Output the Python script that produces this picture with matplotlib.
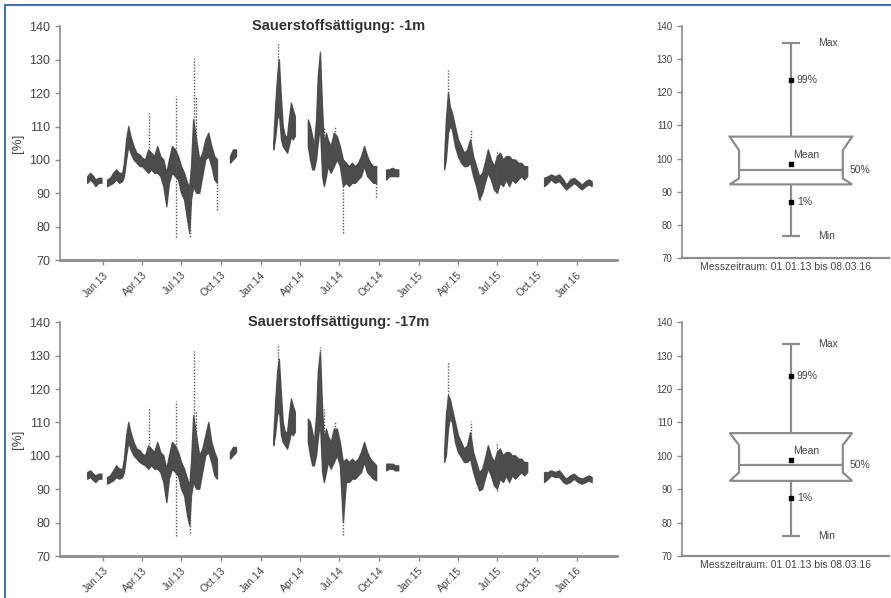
import numpy as np
import pandas as pd
import matplotlib
matplotlib.use('Agg')
import matplotlib.pyplot as plt
import matplotlib.dates as mdates
from matplotlib.patches import Polygon
from matplotlib.lines import Line2D

plt.rcParams['font.family'] = ['Liberation Sans', 'DejaVu Sans']

NA = np.nan

# -1m: lower / upper edge of the point cloud (NA = gap in the record)
dates_1m = ['2012-11-27', '2012-12-04', '2012-12-11', '2012-12-16', '2012-12-23', '2012-12-30', '2013-01-06',
            '2013-01-12', '2013-01-19', '2013-01-26', '2013-02-02', '2013-02-09', '2013-02-16', '2013-02-20',
            '2013-02-25', '2013-03-02', '2013-03-07', '2013-03-14', '2013-03-21', '2013-03-28', '2013-04-03',
            '2013-04-10', '2013-04-17', '2013-04-24', '2013-05-01', '2013-05-08', '2013-05-15', '2013-05-22',
            '2013-05-29', '2013-06-04', '2013-06-11', '2013-06-18', '2013-06-25', '2013-07-02', '2013-07-09',
            '2013-07-16', '2013-07-21', '2013-07-25', '2013-07-30', '2013-08-06', '2013-08-13', '2013-08-20',
            '2013-08-27', '2013-09-03', '2013-09-10', '2013-09-17', '2013-09-23', '2013-10-08',
            '2013-10-23', '2013-10-30', '2013-11-06', '2013-12-15',
            '2014-01-31', '2014-02-04', '2014-02-09', '2014-02-13', '2014-02-18', '2014-02-22', '2014-02-27',
            '2014-03-04', '2014-03-08', '2014-03-13', '2014-03-17', '2014-03-22', '2014-04-05',
            '2014-04-21', '2014-04-26', '2014-05-01', '2014-05-05', '2014-05-10', '2014-05-14', '2014-05-19',
            '2014-05-24', '2014-05-28', '2014-06-02', '2014-06-06', '2014-06-13', '2014-06-20', '2014-06-27',
            '2014-07-04', '2014-07-11', '2014-07-18', '2014-07-25', '2014-08-01', '2014-08-08', '2014-08-15',
            '2014-08-22', '2014-08-29', '2014-09-05', '2014-09-12', '2014-09-19', '2014-09-26', '2014-10-10',
            '2014-10-19', '2014-10-26', '2014-11-02', '2014-11-09', '2014-11-16', '2015-01-15',
            '2015-03-02', '2015-03-06', '2015-03-11', '2015-03-15', '2015-03-20', '2015-03-27', '2015-04-03',
            '2015-04-10', '2015-04-17', '2015-04-24', '2015-05-01', '2015-05-08', '2015-05-15', '2015-05-22',
            '2015-05-29', '2015-06-04', '2015-06-11', '2015-06-18', '2015-06-25', '2015-07-02', '2015-07-09',
            '2015-07-16', '2015-07-23', '2015-07-30', '2015-08-06', '2015-08-13', '2015-08-20', '2015-08-27',
            '2015-09-03', '2015-09-10', '2015-10-01',
            '2015-10-19', '2015-10-28', '2015-11-04', '2015-11-13', '2015-11-23', '2015-12-02', '2015-12-09',
            '2015-12-18', '2015-12-27', '2016-01-05', '2016-01-14', '2016-01-23', '2016-01-30', '2016-02-06']
lo_1m = [93, 94, 93, 92, 93, 93, NA,
         92, 92.5, 93, 94, 93, 93.5, 95,
         100, 104, 102, 100, 99, 98, 98,
         97, 96, 97, 96, 96, 95, 92,
         86, 93, 96, 95, 94, 90, 88,
         82, 78, 88, 92, 90, 90, 95,
         100, 101, 98, 94, 93, NA,
         99, 100, 101, NA,
         103, 106, 112, 114, 106, 104, 103,
         102, 104, 107, 106, 107, NA,
         104, 100, 97, 97, 100, 105, 110,
         95, 92, 95, 98, 96, 98, 100,
         98, 92, 93, 92, 93, 93, 94,
         95, 98, 95, 94, 93, 93, NA,
         94, 95, 95, 95, 95, NA,
         97, 100, 108, 110, 109, 104, 101,
         99, 98, 98, 99, 95, 92, 88,
         90, 93, 96, 94, 91, 90, 93,
         92, 94, 92, 94, 93, 94, 95,
         94, 95, NA,
         92, 93, 94, 93, 93.5, 92, 91,
         92, 93, 92, 91, 92, 92.5, 92]
hi_1m = [95, 96, 95, 94, 94.5, 94.5, NA,
         94, 94.5, 96, 97, 96, 96, 99,
         106, 110, 107, 104, 102, 101.5, 100.5,
         100, 103, 102, 101, 104, 101, 100,
         96, 100, 104, 103, 101, 98, 96,
         93, 92, 98, 112, 106, 100, 102,
         106, 108, 104, 101, 100, NA,
         101, 103, 103, NA,
         105, 115, 125, 130, 118, 110, 107,
         107, 112, 117, 115, 113, NA,
         112, 110, 107, 104, 112, 125, 132,
         115, 105, 108, 106, 104, 108, 107,
         104, 100, 99, 98, 99, 98, 99,
         101, 104, 101, 99, 98, 98, NA,
         97, 97, 97.5, 97, 97, NA,
         100, 112, 120, 116, 114, 110, 106,
         104, 102, 103, 106, 101, 98, 95,
         96, 99, 103, 100, 98, 101, 102,
         100, 101, 101, 100, 100, 99, 99,
         98, 98, NA,
         94.5, 95, 95.5, 95, 95.5, 94, 92.5,
         94, 94.5, 93.5, 92.5, 93.5, 94, 93.5]

# -1m: sparse single readings far outside the cloud
spk_dates_1m = ['2013-04-17', '2013-06-20', '2013-07-21', '2013-07-30', '2013-08-04', '2013-09-21',
                '2014-02-11', '2014-05-19', '2014-05-27', '2014-06-22', '2014-07-11', '2014-09-24',
                '2015-03-10', '2015-05-01', '2015-05-22', '2015-07-02']
spk_lo_1m = [100, 77, 77, 100, 100, 85, 118, 115, 100, 104, 78, 89, 112, 103, 88, 90]
spk_hi_1m = [114, 119, 92, 130.5, 119, 93, 135, 132.5, 110, 110, 95, 94, 127, 109, 93, 103]

# -17m
dates_17m = dates_1m
lo_17m = [93, 93.5, 92.5, 92, 93, 93, NA,
          91.5, 92, 92.5, 93.5, 93, 93.5, 95,
          100, 104, 102, 100, 99, 98, 97.5,
          97, 96, 97, 96, 96, 95, 92,
          86, 93, 96, 95, 94, 90, 88,
          82, 79, 88, 92, 90, 90, 95,
          100, 101, 98, 94, 93, NA,
          99, 100, 101, NA,
          103, 106, 112, 114, 106, 104, 103,
          102, 104, 107, 106, 107, NA,
          104, 100, 97, 97, 100, 105, 110,
          95, 92, 95, 98, 96, 98, 100,
          97, 80, 92, 92, 93, 93, 94,
          95, 98, 95, 94, 93, 92.5, NA,
          95.5, 96, 96, 95.5, 95.5, NA,
          98, 100, 108, 111, 110, 104, 101,
          99.5, 98, 98, 99, 95, 92, 89.5,
          90, 93, 96, 94, 91, 90, 93,
          92, 94, 92, 94, 93, 94, 95,
          94, 95, NA,
          92, 93, 94, 93.5, 93.5, 92, 91.5,
          92, 93, 92, 91.5, 92, 92.5, 92]
hi_17m = [95, 95.5, 94.5, 94, 94.5, 94.5, NA,
          93.5, 94, 95.5, 97, 96, 96, 99,
          106, 110, 107, 104, 102, 101.5, 100.5,
          100, 103, 102, 101, 104, 101, 100,
          96, 100, 104, 103, 101, 98, 96,
          93, 91, 98, 112, 106, 100, 102,
          106, 110, 104, 101, 99, NA,
          101, 102.5, 102.5, NA,
          105, 115, 125, 129, 118, 110, 107,
          107, 112, 117, 115, 113, NA,
          111, 110, 107, 104, 112, 125, 131,
          114, 105, 108, 106, 104, 108, 108,
          104, 98, 99, 98, 99, 98, 99,
          101, 104, 101, 99, 98, 97, NA,
          97.5, 97.5, 97.5, 97, 97, NA,
          101, 112, 118, 117, 114, 110, 106,
          104, 102, 103, 107, 101, 98, 95,
          96, 99, 103, 100, 98, 101, 102,
          100, 101, 101, 100, 100, 99, 99,
          98, 98, NA,
          95, 95, 95.5, 95, 95.5, 94, 93,
          94, 94.5, 93.5, 93, 93.5, 94, 93.5]

spk_dates_17m = ['2013-04-17', '2013-06-20', '2013-07-21', '2013-07-30', '2013-08-04',
                 '2014-02-11', '2014-05-19', '2014-05-27', '2014-06-22', '2014-07-11',
                 '2015-03-10', '2015-05-01', '2015-07-02']
spk_lo_17m = [100, 76, 77, 100, 100, 118, 115, 100, 104, 76.3, 112, 103, 89.5]
spk_hi_17m = [114.5, 116.5, 92, 131.5, 113.5, 133.5, 132.5, 114, 110.5, 95, 128.5, 110.5, 104]

# box plot statistics (01.01.13 - 08.03.16)
stat_names = ['min', 'p1', 'q1', 'ci_lo', 'med', 'ci_hi', 'q3', 'p99', 'max', 'mean']
box_1m = [76.5, 87.0, 92.2, 94.0, 96.6, 102.5, 106.6, 123.8, 135.0, 98.5]
box_17m = [76.0, 87.5, 92.5, 95.0, 97.2, 103.2, 106.8, 124.0, 133.5, 98.8]

titles = ['Sauerstoffsättigung: -1m', 'Sauerstoffsättigung: -17m']
period = 'Messzeitraum: 01.01.13 bis 08.03.16'
tick_dates = pd.date_range('2013-01-01', '2016-01-01', freq='QS')

GREY = '#8c8c8c'
TXT = '#444444'


def style_axes(ax, bottom_lw=2.0):
    for s in ['top', 'right']:
        ax.spines[s].set_visible(False)
    ax.spines['left'].set_color(GREY)
    ax.spines['left'].set_linewidth(1.2)
    ax.spines['bottom'].set_color(GREY)
    ax.spines['bottom'].set_linewidth(bottom_lw)
    ax.tick_params(colors=GREY, labelcolor=TXT, width=1, length=3.5)
    ax.set_ylim(70, 140)
    ax.set_yticks(np.arange(70, 141, 10))


def draw_series(ax, dates, lo, hi, sd, slo, shi, title):
    d = pd.to_datetime(dates)
    ax.vlines(pd.to_datetime(sd), slo, shi, colors='#555555', lw=1.0, linestyles=(0, (1, 1.2)))
    ax.fill_between(d, np.array(lo, float), np.array(hi, float),
                    facecolor='#333333', edgecolor='#444444', lw=1.0, alpha=0.88)
    style_axes(ax)
    ax.set_xlim(pd.Timestamp('2012-09-24'), pd.Timestamp('2016-04-03'))
    ax.set_xticks(tick_dates)
    ax.xaxis.set_major_formatter(mdates.DateFormatter('%b.%y'))
    plt.setp(ax.get_xticklabels(), rotation=45, ha='right', rotation_mode='anchor', fontsize=7.5)
    plt.setp(ax.get_yticklabels(), fontsize=9)
    ax.set_ylabel('[%]', fontsize=9.5, color=TXT, labelpad=4)
    ax.text(0.5, 1.0, title, transform=ax.transAxes, ha='center', va='center',
            fontsize=10.5, fontweight='bold', color='#333333')


def draw_box(ax, vals):
    s = dict(zip(stat_names, vals))
    c, hw, ins, cap = 0.527, 0.296, 0.045, 0.045
    L, R = c - hw, c + hw
    poly = Polygon([(L, s['q3']), (R, s['q3']), (R - ins, s['ci_hi']), (R - ins, s['ci_lo']),
                    (R, s['q1']), (L, s['q1']), (L + ins, s['ci_lo']), (L + ins, s['ci_hi'])],
                   closed=True, fill=False, edgecolor=GREY, lw=1.6)
    ax.add_patch(poly)
    ax.hlines(s['med'], L + ins, R - ins, color=GREY, lw=1.6)
    ax.vlines(c, s['q3'], s['max'], color=GREY, lw=1.6)
    ax.vlines(c, s['min'], s['q1'], color=GREY, lw=1.6)
    ax.hlines([s['max'], s['min']], c - cap, c + cap, color=GREY, lw=1.6)
    ax.plot([c, c, c], [s['p99'], s['p1'], s['mean']], 's', ms=3, color='black')
    fs = 7.5
    ax.text(0.657, s['max'], 'Max', fontsize=fs, color=TXT, va='center')
    ax.text(0.657, s['min'], 'Min', fontsize=fs, color=TXT, va='center')
    ax.text(0.556, s['p99'], '99%', fontsize=fs, color=TXT, va='center')
    ax.text(0.556, s['p1'], '1%', fontsize=fs, color=TXT, va='center')
    ax.text(0.536, s['mean'] + 2.5, 'Mean', fontsize=fs, color=TXT, va='center')
    ax.text(0.812, s['med'], '50%', fontsize=fs, color=TXT, va='center')
    style_axes(ax, bottom_lw=1.6)
    ax.set_xlim(0, 1)
    ax.set_xticks([])
    plt.setp(ax.get_yticklabels(), fontsize=7)
    ax.set_xlabel(period, fontsize=7.5, color=TXT, labelpad=3)


fig = plt.figure(figsize=(8.91, 5.98), dpi=100)
ax1 = fig.add_axes([0.0673, 0.565, 0.625, 0.391])
ax2 = fig.add_axes([0.0673, 0.0702, 0.625, 0.391])
bx1 = fig.add_axes([0.7654, 0.5686, 0.232, 0.388])
bx2 = fig.add_axes([0.7654, 0.0702, 0.232, 0.391])

draw_series(ax1, dates_1m, lo_1m, hi_1m, spk_dates_1m, spk_lo_1m, spk_hi_1m, titles[0])
draw_series(ax2, dates_17m, lo_17m, hi_17m, spk_dates_17m, spk_lo_17m, spk_hi_17m, titles[1])
draw_box(bx1, box_1m)
draw_box(bx2, box_17m)

# blue frame (top and left edge visible in the original)
fig.add_artist(Line2D([0.006, 1.0], [0.9916, 0.9916], color='#4472c4', lw=1.5, transform=fig.transFigure))
fig.add_artist(Line2D([0.006, 0.006], [0.0, 0.9916], color='#4472c4', lw=1.5, transform=fig.transFigure))

fig.savefig('out.png', dpi=100)
